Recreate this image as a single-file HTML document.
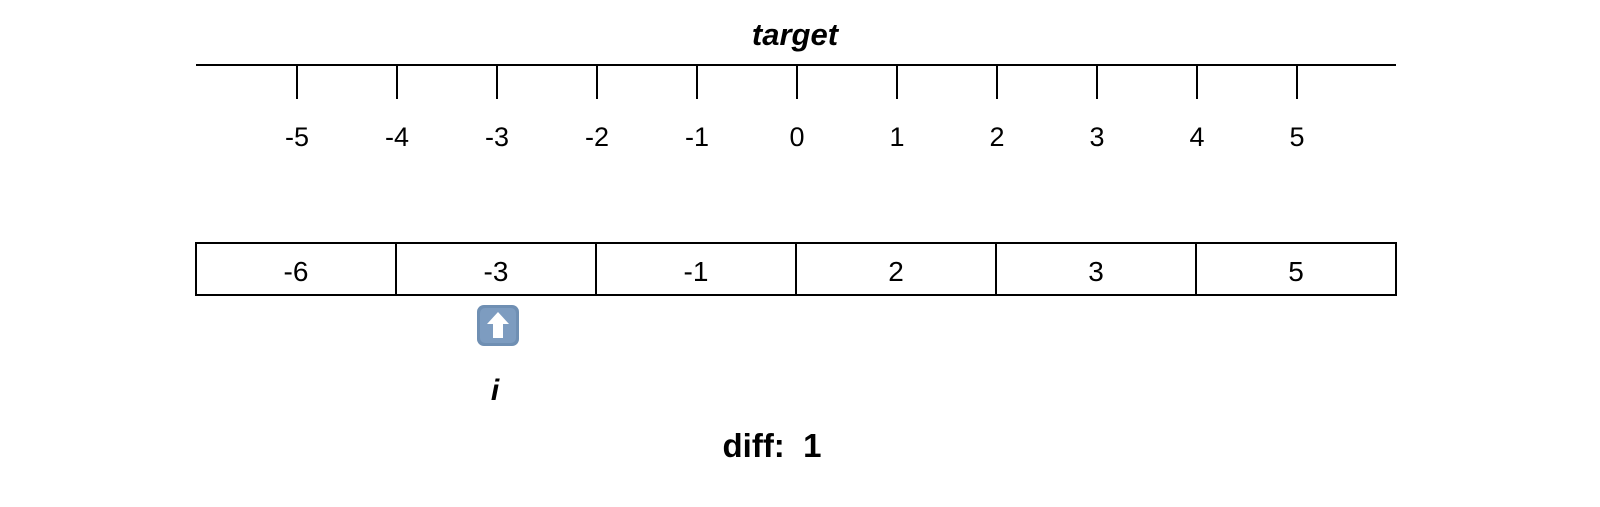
<!DOCTYPE html>
<html><head><meta charset="utf-8"><style>
html,body{margin:0;padding:0;background:#fff;}
svg text{font-family:"Liberation Sans",sans-serif;white-space:pre;}
</style></head><body>
<svg width="1600" height="502" viewBox="0 0 1600 502" xmlns="http://www.w3.org/2000/svg">
<text x="795" y="45" text-anchor="middle" font-size="31" font-weight="bold" font-style="italic">target</text>
<line x1="196" y1="65" x2="1396" y2="65" stroke="#000" stroke-width="2"/>
<g id="ticks"></g>
<g id="cells"></g>
<g>
<rect x="477" y="305" width="42" height="41" rx="7" fill="#6f8fb3"/>
<rect x="480" y="308" width="36" height="35" rx="5" fill="#7d9cc0"/>
<polygon points="498,312 509,324 503,324 503,338 493,338 493,324 487,324" fill="#fff"/>
</g>
<text x="495" y="400" text-anchor="middle" font-size="30" font-weight="bold" font-style="italic">i</text>
<text x="772" y="457" text-anchor="middle" font-size="33" font-weight="bold" xml:space="preserve">diff:  1</text>
</svg>
<script>
const tickValues=[-5,-4,-3,-2,-1,0,1,2,3,4,5];
const arrayValues=[-6,-3,-1,2,3,5];
const NS="http://www.w3.org/2000/svg";
function xTick(v){return 797+v*100;}
function xCell(i){return 196+i*200;}
const tg=document.getElementById('ticks');
tickValues.forEach(v=>{
 const l=document.createElementNS(NS,'line');
 l.setAttribute('x1',xTick(v));l.setAttribute('x2',xTick(v));
 l.setAttribute('y1',65);l.setAttribute('y2',99);
 l.setAttribute('stroke','#000');l.setAttribute('stroke-width','2');
 
 
 tg.appendChild(l);
 const t=document.createElementNS(NS,'text');
 t.setAttribute('x',xTick(v));t.setAttribute('y',146);
 t.setAttribute('text-anchor','middle');t.setAttribute('font-size','27');
 t.textContent=v;
 
 
 tg.appendChild(t);
});
const cg=document.getElementById('cells');
arrayValues.forEach((v,i)=>{
 const r=document.createElementNS(NS,'rect');
 r.setAttribute('x',xCell(i));r.setAttribute('y',243);
 r.setAttribute('width',200);r.setAttribute('height',52);
 r.setAttribute('fill','none');r.setAttribute('stroke','#000');r.setAttribute('stroke-width','2');
 
 
 cg.appendChild(r);
 const t=document.createElementNS(NS,'text');
 t.setAttribute('x',xCell(i)+100);t.setAttribute('y',281);
 t.setAttribute('text-anchor','middle');t.setAttribute('font-size','28');
 t.textContent=v;
 
 
 cg.appendChild(t);
});
</script>
</body></html>
